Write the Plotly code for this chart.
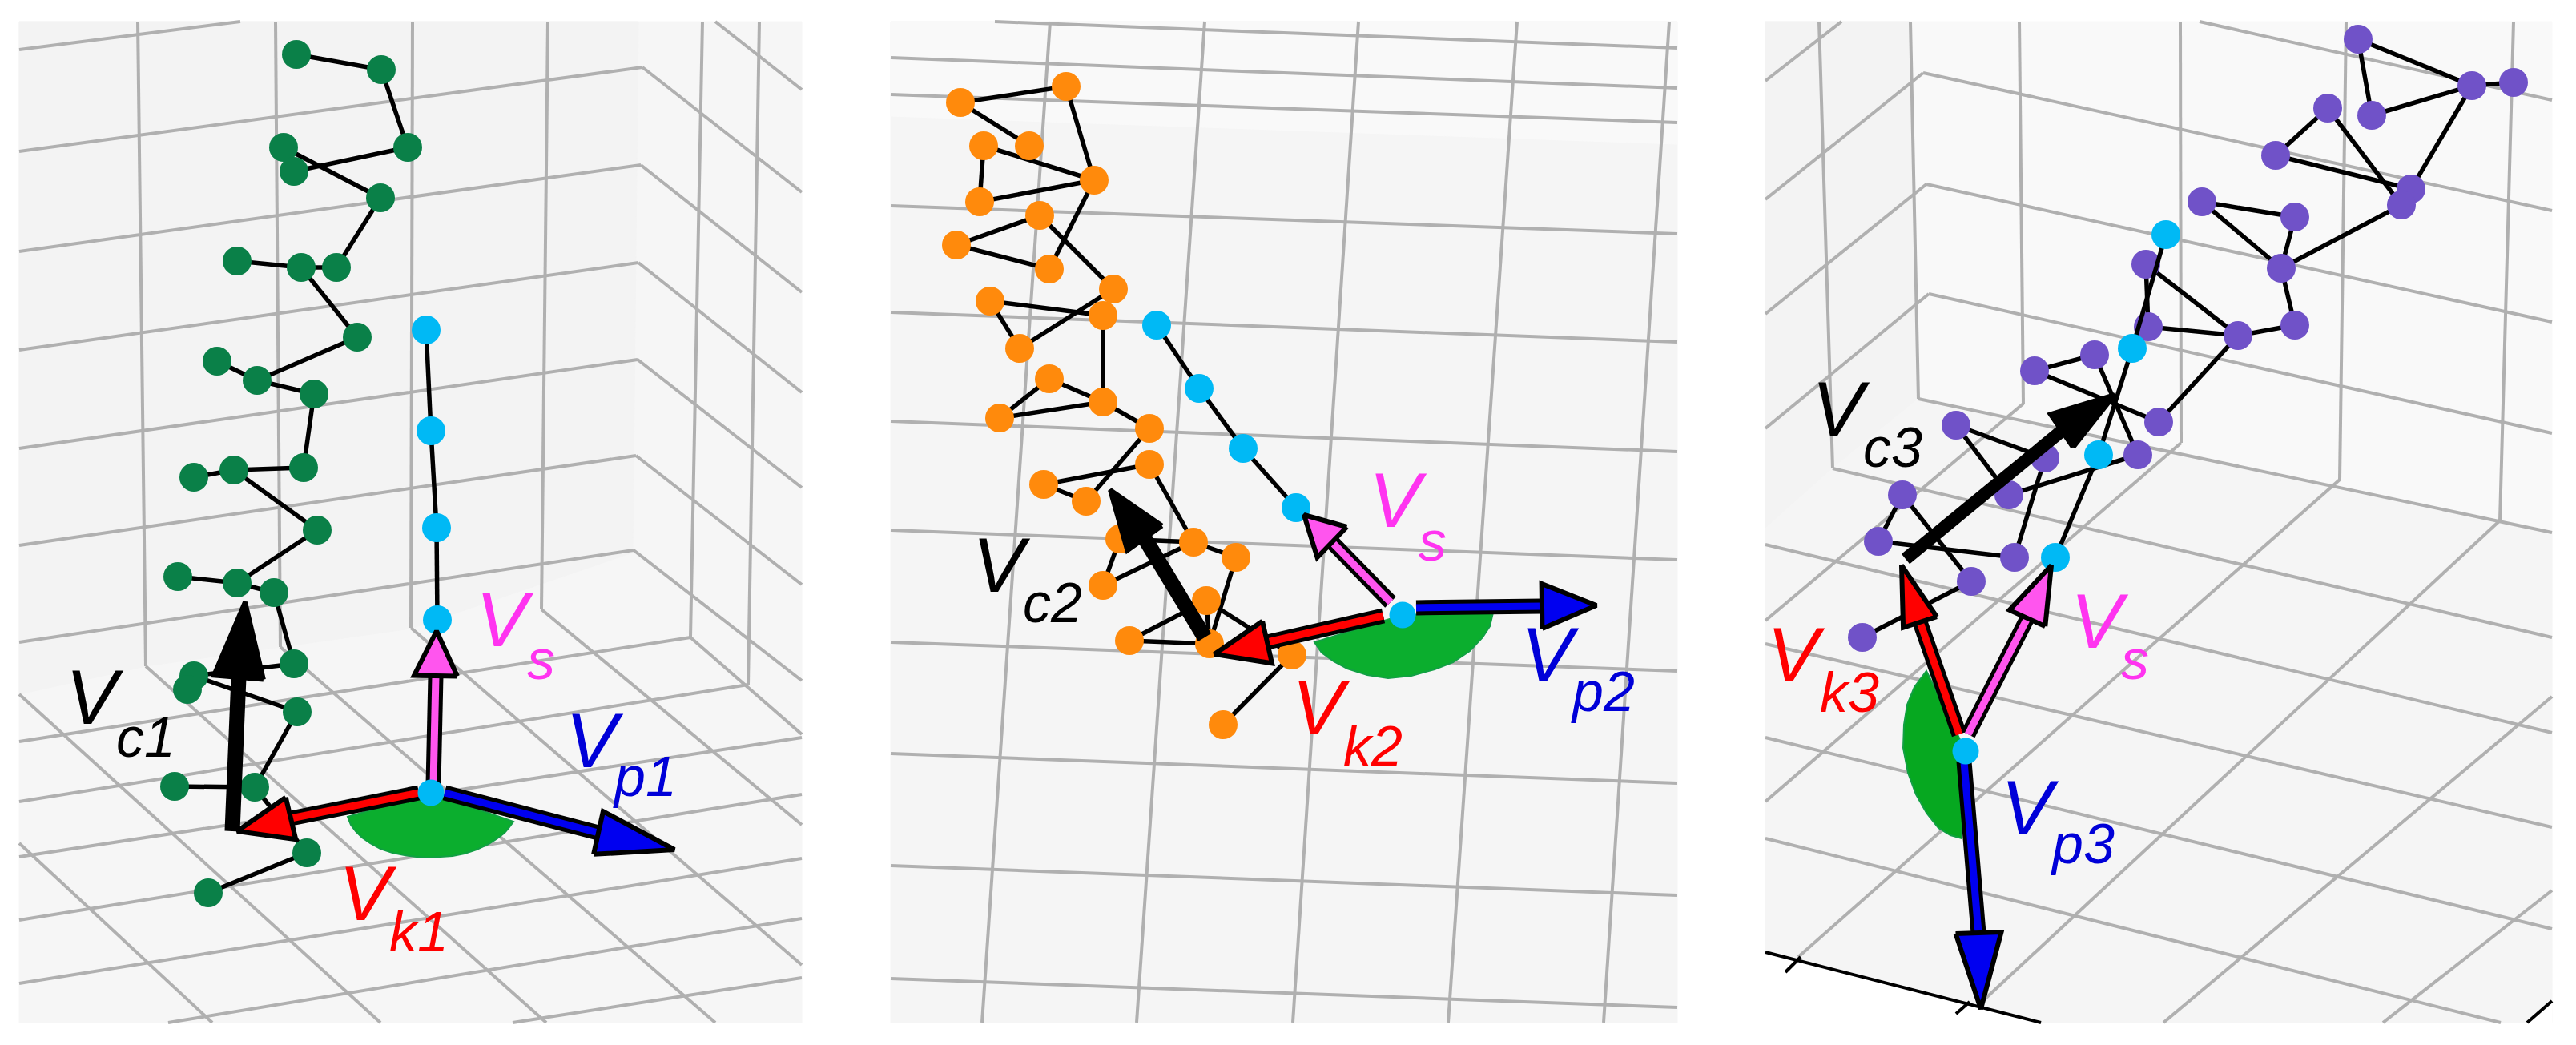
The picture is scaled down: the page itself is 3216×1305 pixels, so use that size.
import plotly.graph_objects as go

# Everything in page pixels (x right, y down)
PAGE_W = 3216
PAGE_H = 1305
OFFSET = 8  # default body margin of the written page

GRID = '#b0b0b0'
CYAN = '#00b9f5'
GREEN = '#0a8048'
ORANGE = '#ff8a0c'
PURPLE = '#7052c8'
WEDGE = '#0bae2e'
WEDGE_EDGE = '#12a044'
RED = '#ff0000'
BLUE = '#0000f0'
PINK = '#ff55ee'
BLACK = '#000000'

# ---- panel 1 ----
p1_bg_x = [24, 1001, 1001, 24]
p1_bg_y = [27, 27, 1277, 1277]
p1_wall_x = [24, 797, 790, 513, 182, 24]
p1_wall_y = [27, 27, 690, 785, 832, 867]
p1_grid = [
    (172, 27, 182, 832), (344, 27, 350, 808), (515, 27, 513, 784), (684, 27, 676, 761),
    (877, 27, 862, 796), (948, 27, 934, 855),
    (24, 62, 300, 27), (24, 189, 802, 84), (24, 314, 800, 206), (24, 437, 797, 328),
    (24, 560, 796, 449), (24, 681, 794, 569), (24, 802, 791, 687),
    (893, 27, 1001, 112), (802, 84, 1001, 240), (800, 206, 1001, 365), (797, 328, 1001, 490),
    (796, 449, 1001, 609), (794, 569, 1001, 730), (791, 687, 1001, 850),
    (24, 926, 862, 796), (24, 1001, 934, 855), (24, 1070, 1001, 921), (24, 1149, 1001, 992),
    (24, 1228, 1001, 1072), (210, 1277, 1001, 1147), (640, 1277, 1001, 1221),
    (24, 867, 475, 1277), (24, 1053, 265, 1277), (182, 832, 682, 1277), (350, 808, 893, 1277),
    (513, 784, 1001, 1205), (676, 761, 1001, 1030), (862, 796, 1001, 917),
]
p1_wedge_x = [537, 434, 438, 444, 452, 462, 475, 490, 505, 520, 535, 550, 565, 580, 595, 610, 621, 630, 636, 641]
p1_wedge_y = [990, 1020, 1030, 1038, 1046, 1053, 1060, 1065, 1068, 1070, 1071, 1070, 1069, 1066, 1061, 1054, 1047, 1040, 1033, 1026]
p1_node_x = [370, 476, 509, 354, 367, 475, 420, 376, 296, 446, 321, 271, 392, 379, 292, 242, 396,
             296, 222, 342, 367, 242, 234, 371, 318, 218, 383, 260]
p1_node_y = [68, 87, 184, 184, 214, 247, 334, 334, 326, 421, 475, 451, 492, 584, 587, 596, 662,
             728, 720, 740, 829, 844, 861, 889, 983, 982, 1065, 1115]
p1_links = [(0, 1), (1, 2), (2, 4), (3, 5), (5, 6), (6, 7), (7, 8), (7, 9), (9, 10), (10, 11),
            (10, 12), (12, 13), (13, 14), (14, 15), (14, 16), (16, 17), (17, 18), (17, 19),
            (19, 20), (20, 21), (21, 22), (21, 23), (23, 24), (24, 25), (24, 26), (26, 27)]
p1_cyan_x = [532, 538, 545, 546, 538]
p1_cyan_y = [412, 538, 659, 774, 990]
# tail x, tail y, base x, base y, tip x, tip y, head width
p1_vc = (290, 1038, 298, 846, 306, 752, 62)
p1_vs = (541, 980, 544, 844, 545, 788, 54)
p1_vk = (523, 990, 363, 1022, 296, 1038, 54)
p1_vp = (555, 990, 747, 1040, 842, 1061, 55)

# ---- panel 2 ----
p2_bg_x = [1112, 2094, 2094, 1112]
p2_bg_y = [27, 27, 1277, 1277]
p2_top_x = [1112, 2094, 2094, 1112]
p2_top_y = [27, 27, 180, 145]
p2_grid = [
    (1242, 27, 2094, 60), (1112, 72, 2094, 110), (1112, 118, 2094, 153), (1112, 257, 2094, 292),
    (1112, 390, 2094, 427), (1112, 526, 2094, 564), (1112, 662, 2094, 699), (1112, 802, 2094, 838),
    (1112, 941, 2094, 978), (1112, 1081, 2094, 1118), (1112, 1222, 2094, 1258),
    (1311, 27, 1226, 1277), (1504, 27, 1419, 1277), (1696, 27, 1614, 1277),
    (1894, 27, 1808, 1277), (2084, 27, 2002, 1277),
]
p2_wedge_x = [1751, 1641, 1650, 1665, 1682, 1707, 1733, 1762, 1791, 1814, 1835, 1851, 1860, 1864]
p2_wedge_y = [768, 802, 815, 826, 835, 843, 847, 844, 836, 827, 813, 796, 782, 765]
p2_node_x = [1199, 1331, 1228, 1285, 1366, 1223, 1298, 1194, 1310, 1390, 1236, 1377, 1273, 1310,
             1377, 1248, 1435, 1435, 1303, 1356, 1398, 1490, 1543, 1377, 1506, 1410, 1510, 1613, 1527]
p2_node_y = [128, 108, 182, 182, 225, 252, 269, 306, 336, 361, 376, 394, 435, 473,
             502, 522, 535, 580, 605, 626, 673, 677, 696, 731, 750, 800, 804, 818, 905]
p2_links = [(0, 1), (0, 3), (1, 4), (2, 4), (2, 5), (5, 4), (4, 8), (8, 7), (7, 6), (6, 9),
            (9, 12), (12, 10), (10, 11), (11, 14), (14, 13), (13, 15), (15, 14), (14, 16),
            (16, 19), (19, 18), (18, 17), (17, 21), (21, 20), (21, 22), (20, 23), (23, 21),
            (22, 26), (26, 24), (24, 25), (25, 26), (24, 27), (27, 28)]
p2_cyan_x = [1444, 1497, 1552, 1618, 1751]
p2_cyan_y = [406, 485, 560, 634, 768]
p2_vc = (1504, 796, 1429, 672, 1386, 612, 53)
p2_vs = (1736, 752, 1663, 677, 1628, 643, 53)
p2_vk = (1727, 769, 1582, 802, 1516, 817, 54)
p2_vp = (1768, 759, 1925, 757, 1993, 756, 56)

# ---- panel 3 ----
p3_bg_x = [2204, 3186, 3186, 2204]
p3_bg_y = [27, 27, 1277, 1277]
p3_left_x = [2204, 2385, 2395, 2288, 2204]
p3_left_y = [27, 27, 498, 585, 660]
p3_floor_x = [2204, 2288, 2395, 3186, 3186, 2204]
p3_floor_y = [660, 585, 498, 665, 1277, 1277]
p3_white1_x = [2204, 2548, 2204]
p3_white1_y = [1189, 1277, 1277]
p3_white2_x = [3155, 3186, 3186]
p3_white2_y = [1277, 1250, 1277]
p3_grid = [
    (2271, 27, 2288, 585), (2385, 27, 2395, 498), (2521, 27, 2526, 504), (2722, 27, 2723, 553),
    (2929, 27, 2921, 599), (3138, 27, 3121, 650),
    (2746, 27, 3186, 125), (2401, 91, 3186, 263), (2405, 230, 3186, 402), (2408, 367, 3186, 541),
    (2204, 101, 2299, 27), (2204, 249, 2401, 91), (2204, 392, 2405, 230), (2204, 535, 2408, 367),
    (2395, 498, 3186, 665), (2288, 585, 3186, 796), (2204, 680, 3186, 915), (2204, 804, 3186, 1033),
    (2204, 921, 3186, 1160), (2204, 1047, 3122, 1277),
    (2723, 553, 2204, 1001), (2526, 504, 2204, 775), (2921, 599, 2245, 1195), (3121, 650, 2470, 1255),
    (3186, 870, 2701, 1277), (3186, 1112, 2975, 1277),
]
p3_axis = [(2204, 1189, 2548, 1277), (2248, 1195, 2229, 1214), (2459, 1251, 2442, 1266), (3186, 1250, 3155, 1277)]
p3_wedge_x = [2454, 2405, 2390, 2381, 2377, 2376, 2382, 2392, 2405, 2420, 2435, 2449]
p3_wedge_y = [938, 838, 858, 880, 905, 934, 965, 992, 1015, 1034, 1043, 1047]
p3_node_x = [2944, 3086, 3138, 2961, 2906, 2841, 3010, 2998, 2749, 2865, 2848, 2679, 2682, 2794,
             2865, 2615, 2540, 2695, 2442, 2553, 2669, 2508, 2375, 2345, 2515, 2461, 2325]
p3_node_y = [49, 107, 103, 144, 135, 194, 236, 256, 252, 271, 335, 330, 408, 419,
             406, 443, 463, 527, 531, 572, 568, 618, 618, 676, 696, 726, 796]
p3_links = [(0, 1), (0, 3), (3, 1), (1, 2), (1, 6), (4, 5), (4, 7), (5, 6), (7, 10), (8, 9), (8, 10),
            (9, 10), (10, 14), (14, 13), (13, 12), (12, 11), (11, 13), (13, 17), (17, 16), (16, 15),
            (15, 20), (18, 19), (18, 21), (19, 24), (20, 21), (22, 23), (22, 25), (23, 24), (25, 26)]
p3_cyan_x = [2704, 2662, 2620, 2566, 2454]
p3_cyan_y = [293, 435, 568, 696, 938]
p3_vc = (2379, 698, 2574, 538, 2640, 493, 50)
p3_vk = (2446, 917, 2397, 777, 2374, 706, 44)
p3_vs = (2457, 917, 2531, 772, 2561, 706, 49)
p3_vp = (2452, 951, 2470, 1165, 2473, 1260, 57)

# ---- labels: colour, main letter x, y, subscript text, x, y ----
labels = [
    (BLACK, 118, 870, 'c1', 182, 921),
    ('#ff33f0', 630, 773, 's', 675, 824),
    ('#0000d8', 742, 924, 'p1', 805, 970),
    (RED, 459, 1115, 'k1', 523, 1164),
    (BLACK, 1250, 705, 'c2', 1314, 753),
    ('#ff33f0', 1745, 624, 's', 1788, 676),
    (RED, 1649, 883, 'k2', 1714, 932),
    ('#0000d8', 1935, 817, 'p2', 2001, 864),
    (BLACK, 2298, 510, 'c3', 2363, 559),
    ('#ff33f0', 2621, 775, 's', 2665, 824),
    (RED, 2242, 817, 'k3', 2309, 865),
    ('#0000d8', 2534, 1008, 'p3', 2600, 1054),
]

fig = go.Figure()


def add_fill(xs, ys, color, line_color=None, line_width=1):
    fig.add_trace(go.Scatter(x=xs + xs[:1], y=ys + ys[:1], mode='lines', fill='toself', fillcolor=color,
                             line=dict(color=line_color or color, width=line_width), hoverinfo='skip'))


def add_segments(segments, color, width):
    xs, ys = [], []
    for x0, y0, x1, y1 in segments:
        xs += [x0, x1, None]
        ys += [y0, y1, None]
    fig.add_trace(go.Scatter(x=xs, y=ys, mode='lines', line=dict(color=color, width=width), hoverinfo='skip'))


def add_skeleton(node_x, node_y, links, color):
    add_segments([(node_x[a], node_y[a], node_x[b], node_y[b]) for a, b in links], BLACK, 5.5)
    fig.add_trace(go.Scatter(x=node_x, y=node_y, mode='markers', marker=dict(color=color, size=36),
                             hoverinfo='skip'))


def add_cyan_chain(xs, ys):
    # last point is the origin, it gets drawn on top of the arrows later
    add_segments([(xs[i], ys[i], xs[i + 1], ys[i + 1]) for i in range(len(xs) - 2)], BLACK, 5.5)
    fig.add_trace(go.Scatter(x=xs[:-1], y=ys[:-1], mode='markers', marker=dict(color=CYAN, size=36),
                             hoverinfo='skip'))


def add_arrow(arrow, color, shaft_w, inner_w=None):
    tx, ty, bx, by, hx, hy, head_w = arrow
    add_segments([(tx, ty, bx, by)], BLACK, shaft_w)
    if inner_w:
        add_segments([(tx, ty, bx, by)], color, inner_w)
    dx, dy = hx - bx, hy - by
    length = (dx ** 2 + dy ** 2) ** 0.5
    nx, ny = -dy / length * head_w / 2, dx / length * head_w / 2
    fig.add_trace(go.Scatter(x=[bx + nx, hx, bx - nx, bx + nx], y=[by + ny, hy, by - ny, by + ny],
                             mode='lines', fill='toself', fillcolor=color,
                             line=dict(color=BLACK, width=6), hoverinfo='skip'))


def add_origin(xs, ys):
    fig.add_trace(go.Scatter(x=xs[-1:], y=ys[-1:], mode='markers', marker=dict(color=CYAN, size=33),
                             hoverinfo='skip'))


# Panel 1
add_fill(p1_bg_x, p1_bg_y, '#f6f6f6')
add_fill(p1_wall_x, p1_wall_y, '#f3f3f3')
add_segments(p1_grid, GRID, 4)
add_fill(p1_wedge_x, p1_wedge_y, WEDGE, WEDGE_EDGE, 2)
add_skeleton(p1_node_x, p1_node_y, p1_links, GREEN)
add_cyan_chain(p1_cyan_x, p1_cyan_y)
add_arrow(p1_vc, BLACK, 19)
add_arrow(p1_vs, PINK, 19, 9)
add_arrow(p1_vk, RED, 19, 9)
add_arrow(p1_vp, BLUE, 19, 9)
add_origin(p1_cyan_x, p1_cyan_y)

# Panel 2
add_fill(p2_bg_x, p2_bg_y, '#f5f5f5')
add_fill(p2_top_x, p2_top_y, '#f9f9f9')
add_segments(p2_grid, GRID, 4)
add_fill(p2_wedge_x, p2_wedge_y, WEDGE, WEDGE_EDGE, 2)
add_skeleton(p2_node_x, p2_node_y, p2_links, ORANGE)
add_cyan_chain(p2_cyan_x, p2_cyan_y)
add_arrow(p2_vc, BLACK, 19)
add_arrow(p2_vs, PINK, 19, 9)
add_arrow(p2_vk, RED, 19, 9)
add_arrow(p2_vp, BLUE, 19, 9)
add_origin(p2_cyan_x, p2_cyan_y)

# Panel 3
add_fill(p3_bg_x, p3_bg_y, '#f9f9f9')
add_fill(p3_left_x, p3_left_y, '#f3f3f3')
add_fill(p3_floor_x, p3_floor_y, '#f5f5f5')
add_segments(p3_grid, GRID, 4)
add_fill(p3_white1_x, p3_white1_y, '#ffffff')
add_fill(p3_white2_x, p3_white2_y, '#ffffff')
add_segments(p3_axis, BLACK, 4)
add_fill(p3_wedge_x, p3_wedge_y, '#06a820', WEDGE_EDGE, 2)
add_skeleton(p3_node_x, p3_node_y, p3_links, PURPLE)
add_cyan_chain(p3_cyan_x, p3_cyan_y)
add_arrow(p3_vc, BLACK, 16)
add_arrow(p3_vk, RED, 19, 9)
add_arrow(p3_vs, PINK, 19, 9)
add_arrow(p3_vp, BLUE, 19, 9)
add_origin(p3_cyan_x, p3_cyan_y)

# V and subscript labels
for color, vx, vy, sub, sx, sy in labels:
    fig.add_annotation(x=vx, y=vy, text='<i>V</i>', showarrow=False, xanchor='center', yanchor='middle',
                       font=dict(family='Liberation Sans', size=97, color=color))
    fig.add_annotation(x=sx, y=sy, text='<i>' + sub + '</i>', showarrow=False, xanchor='center',
                       yanchor='middle', font=dict(family='Liberation Sans', size=70, color=color))

# Axes span the whole page so the picture pixels map one to one
fig.update_layout(width=PAGE_W - OFFSET, height=PAGE_H - OFFSET, margin=dict(l=0, r=0, t=0, b=0, pad=0),
                  paper_bgcolor='white', plot_bgcolor='white', showlegend=False,
                  xaxis=dict(range=[OFFSET, PAGE_W], visible=False, fixedrange=True),
                  yaxis=dict(range=[PAGE_H, OFFSET], visible=False, fixedrange=True))

fig.write_html("out.html")
